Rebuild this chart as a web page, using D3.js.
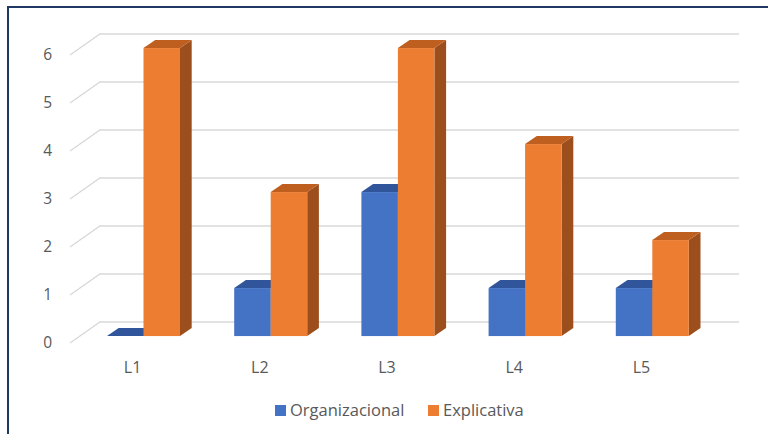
<!DOCTYPE html>
<html>
<head>
<meta charset="utf-8">
<script src="https://cdn.jsdelivr.net/npm/d3@7"></script>
<style>
  html, body { margin: 0; padding: 0; background: #fff; }
  svg { display: block; font-family: "Open Sans", "Noto Sans", sans-serif; }
</style>
</head>
<body>
<svg id="chart" width="768" height="434"></svg>
<script>
// Category labels, series and value-axis ticks
const categories = ["L1", "L2", "L3", "L4", "L5"];
const seriesNames = ["Organizacional", "Explicativa"];
const organizacional = [0, 1, 3, 1, 1];
const explicativa = [6, 3, 6, 4, 2];
const yTicks = [0, 1, 2, 3, 4, 5, 6];

const colors = {
  Organizacional: { front: "#4472c4", top: "#30559a", side: "#2c4f8f" },
  Explicativa:   { front: "#ed7d31", top: "#bf5f1f", side: "#9c4f1d" }
};

const svg = d3.select("#chart");

// Front-plane scales; depth is added as an oblique offset
const y = d3.scaleLinear().domain([0, 6]).range([343, 55]);
const x = d3.scaleBand().domain(categories).range([70, 706]);
const series = d3.scaleBand().domain(seriesNames).range([-36.5, 36.5]);

const DEPTH_DX = 30, DEPTH_DY = -21;          // full depth of the floor
const off = z => [DEPTH_DX * z, DEPTH_DY * z];
const BAR_Z0 = 0.33, BAR_Z1 = 0.72;           // bar front / back depth
const gridRight = 709;                        // front-plane right edge

// Chart frame (left and top edges visible)
svg.append("path")
  .attr("d", "M8,434 V7 H768")
  .attr("fill", "none")
  .attr("stroke", "#203864")
  .attr("stroke-width", 2);

// Gridlines: diagonal from the front edge to the back wall, then across
const grid = svg.append("g").attr("fill", "none").attr("stroke", "#d9d9d9").attr("stroke-width", 1.4);
yTicks.forEach(t => {
  const [bx, by] = off(1);
  grid.append("path").attr("d",
    `M${70},${y(t)} L${70 + bx},${y(t) + by} H${gridRight + bx}`);
});

// Value-axis labels
svg.append("g").selectAll("text")
  .data(yTicks).join("text")
  .attr("x", 52).attr("y", d => y(d))
  .attr("dy", "0.35em")
  .attr("text-anchor", "end")
  .attr("fill", "#595959")
  .attr("font-size", 15.5)
  .text(d => d);

// Bars
const bars = svg.append("g");
const [f0x, f0y] = off(BAR_Z0);
const [f1x, f1y] = off(BAR_Z1);
const ddx = f1x - f0x, ddy = f1y - f0y;
const bw = series.bandwidth();

categories.forEach((cat, i) => {
  const vals = { Organizacional: organizacional[i], Explicativa: explicativa[i] };
  seriesNames.forEach(s => {
    const c = colors[s];
    const x0 = x(cat) + x.bandwidth() / 2 + series(s) + f0x;
    const x1 = x0 + bw;
    const yb = y(0) + f0y;
    const yt = y(vals[s]) + f0y;
    const g = bars.append("g");
    // right side face
    g.append("path")
      .attr("d", `M${x1},${yb} L${x1 + ddx},${yb + ddy} L${x1 + ddx},${yt + ddy} L${x1},${yt} Z`)
      .attr("fill", c.side);
    // top face
    g.append("path")
      .attr("d", `M${x0},${yt} L${x1},${yt} L${x1 + ddx},${yt + ddy} L${x0 + ddx},${yt + ddy} Z`)
      .attr("fill", c.top);
    // front face
    if (vals[s] > 0) {
      g.append("rect")
        .attr("x", x0).attr("y", yt)
        .attr("width", bw).attr("height", yb - yt)
        .attr("fill", c.front);
    }
  });
});

// Category labels
svg.append("g").selectAll("text")
  .data(categories).join("text")
  .attr("x", d => x(d) + x.bandwidth() / 2 - 1)
  .attr("y", 373)
  .attr("text-anchor", "middle")
  .attr("fill", "#595959")
  .attr("font-size", 16)
  .text(d => d);

// Legend
const legend = svg.append("g");
const legendItems = [
  { name: "Organizacional", x: 275 },
  { name: "Explicativa", x: 428 }
];
legendItems.forEach(it => {
  legend.append("rect")
    .attr("x", it.x).attr("y", 405)
    .attr("width", 11).attr("height", 11)
    .attr("fill", colors[it.name].front);
  legend.append("text")
    .attr("x", it.x + 15).attr("y", 416)
    .attr("fill", "#595959")
    .attr("font-size", 16.5)
    .text(it.name);
});
</script>
</body>
</html>
